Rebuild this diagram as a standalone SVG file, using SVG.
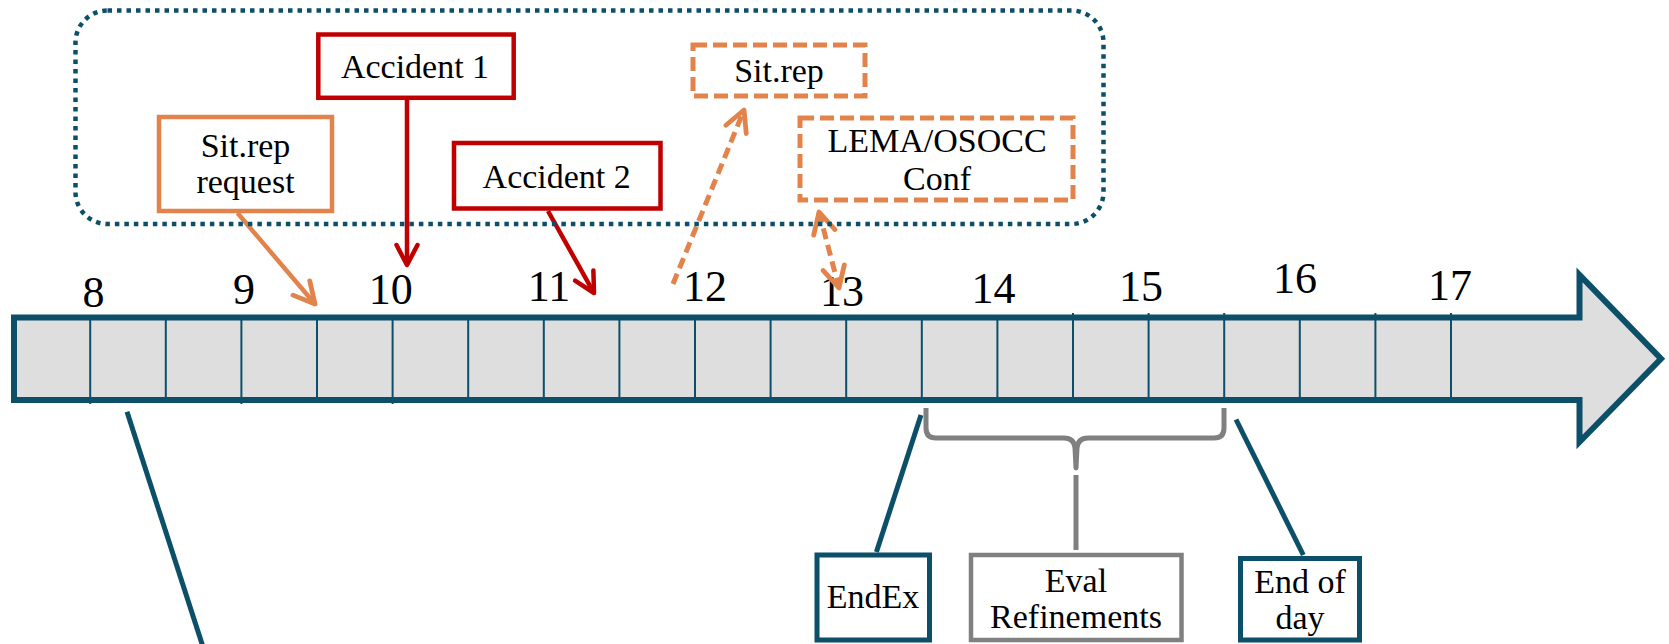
<svg xmlns="http://www.w3.org/2000/svg" width="1669" height="644" viewBox="0 0 1669 644">
<style>
.t{font-family:"Liberation Serif","Times New Roman",serif;font-size:34px;fill:#000;text-anchor:middle}
.n{font-family:"Liberation Serif","Times New Roman",serif;font-size:44px;fill:#000;text-anchor:middle}
.red{fill:#fff;stroke:#C00000;stroke-width:4.5}
.org{fill:#fff;stroke:#E2834B;stroke-width:4.5}
.orgd{fill:#fff;stroke:#E2834B;stroke-width:5;stroke-dasharray:14 6}
.teal{fill:#fff;stroke:#0B4F69;stroke-width:5}
.gray{fill:#fff;stroke:#808080;stroke-width:4.5}
.div{stroke:#0B4F69;stroke-width:2}
.c-red{stroke:#C00000;stroke-width:4.5;fill:none}
.c-org{stroke:#E2834B;stroke-width:4.5;fill:none}
.c-orgd{stroke:#E2834B;stroke-width:5;fill:none;stroke-dasharray:11 6}
.c-teal{stroke:#0B4F69;stroke-width:5;fill:none}
.c-gray{stroke:#808080;stroke-width:5;fill:none;stroke-linejoin:round}
</style>
<defs>
<marker id="ah-red" markerUnits="userSpaceOnUse" markerWidth="40" markerHeight="40" viewBox="-30 -20 40 40" refX="0" refY="0" orient="auto">
<path d="M-20,-10.5 L0,0 L-20,10.5" fill="none" stroke="#C00000" stroke-width="4.5" stroke-linejoin="round" stroke-linecap="round"/>
</marker>
<marker id="ah-org" markerUnits="userSpaceOnUse" markerWidth="40" markerHeight="40" viewBox="-30 -20 40 40" refX="0" refY="0" orient="auto-start-reverse">
<path d="M-21,-11 L0,0 L-21,11" fill="none" stroke="#E2834B" stroke-width="4.8" stroke-linejoin="round" stroke-linecap="round"/>
</marker>
</defs>

<g id="timeline">
<polygon points="14,317.5 1579.5,317.5 1579.5,275 1661,358.75 1579.5,442 1579.5,400 14,400" fill="#DEDEDE" stroke="#0B4F69" stroke-width="6"/>
<g class="div">
<line x1="90.2" y1="320" x2="90.2" y2="404"/>
<line x1="165.8" y1="320" x2="165.8" y2="397"/>
<line x1="241.4" y1="320" x2="241.4" y2="404"/>
<line x1="317" y1="320" x2="317" y2="397"/>
<line x1="392.6" y1="320" x2="392.6" y2="404"/>
<line x1="468.2" y1="320" x2="468.2" y2="397"/>
<line x1="543.8" y1="320" x2="543.8" y2="397"/>
<line x1="619.4" y1="320" x2="619.4" y2="397"/>
<line x1="695" y1="320" x2="695" y2="397"/>
<line x1="770.6" y1="320" x2="770.6" y2="397"/>
<line x1="846.2" y1="320" x2="846.2" y2="397"/>
<line x1="921.8" y1="320" x2="921.8" y2="397"/>
<line x1="997.4" y1="320" x2="997.4" y2="397"/>
<line x1="1073" y1="313" x2="1073" y2="397"/>
<line x1="1148.6" y1="313" x2="1148.6" y2="397"/>
<line x1="1224.2" y1="313" x2="1224.2" y2="397"/>
<line x1="1299.8" y1="320" x2="1299.8" y2="397"/>
<line x1="1375.4" y1="313" x2="1375.4" y2="397"/>
<line x1="1451" y1="313" x2="1451" y2="397"/>
</g>
<text class="n" x="93.4" y="307">8</text>
<text class="n" x="244" y="304">9</text>
<text class="n" x="390.7" y="304">10</text>
<text class="n" x="549" y="301">11</text>
<text class="n" x="705" y="301">12</text>
<text class="n" x="842" y="306">13</text>
<text class="n" x="993.6" y="303">14</text>
<text class="n" x="1141" y="301">15</text>
<text class="n" x="1295" y="293">16</text>
<text class="n" x="1450" y="300">17</text>
</g>

<g id="connectors">
<line class="c-org" x1="237.5" y1="213" x2="315" y2="304" marker-end="url(#ah-org)"/>
<line class="c-red" x1="407" y1="100" x2="407" y2="265" marker-end="url(#ah-red)"/>
<line class="c-red" x1="548" y1="211" x2="594" y2="293" marker-end="url(#ah-red)"/>
<line class="c-orgd" x1="673" y1="284" x2="744" y2="110" marker-end="url(#ah-org)"/>
<line class="c-orgd" x1="819" y1="212" x2="839" y2="288" marker-start="url(#ah-org)" marker-end="url(#ah-org)"/>
<line class="c-teal" x1="127" y1="411.7" x2="204" y2="650"/>
<line class="c-teal" x1="921" y1="415" x2="876.4" y2="552"/>
<line class="c-teal" x1="1236" y1="419.5" x2="1303.3" y2="555"/>
<path class="c-gray" d="M926,408 L926,428 Q926,438 936,438 L1064,438 Q1074,438 1075,448 L1076,468 L1077,448 Q1078,438 1088,438 L1214,438 Q1224,438 1224,428 L1224,408"/>
<line class="c-gray" x1="1076" y1="475" x2="1076" y2="550"/>
</g>

<g id="sitrep-request">
<rect class="org" x="159" y="117" width="173" height="94"/>
<text class="t" x="245.5" y="157">Sit.rep</text>
<text class="t" x="245.5" y="193">request</text>
</g>
<g id="accident-1">
<rect class="red" x="318.3" y="34.5" width="195.4" height="63.3"/>
<text class="t" x="415" y="78">Accident 1</text>
</g>
<g id="accident-2">
<rect class="red" x="454" y="143" width="206.5" height="65.5"/>
<text class="t" x="556.7" y="188">Accident 2</text>
</g>
<g id="sitrep">
<rect class="orgd" x="693" y="45" width="172" height="51"/>
<text class="t" x="779" y="82">Sit.rep</text>
</g>
<g id="lema-osocc">
<rect class="orgd" x="800" y="118" width="273" height="82"/>
<text class="t" x="937" y="152">LEMA/OSOCC</text>
<text class="t" x="937" y="190">Conf</text>
</g>

<g id="scenario-frame">
<rect x="75.5" y="10.5" width="1028" height="213.5" rx="32" ry="32" fill="none" stroke="#0B4F69" stroke-width="4.5" stroke-dasharray="4.5 5"/>
</g>

<g id="endex">
<rect class="teal" x="817" y="555" width="112.5" height="85"/>
<text class="t" x="873" y="608">EndEx</text>
</g>
<g id="eval-refinements">
<rect class="gray" x="971" y="555" width="210.5" height="85"/>
<text class="t" x="1076" y="592">Eval</text>
<text class="t" x="1076" y="628">Refinements</text>
</g>
<g id="end-of-day">
<rect class="teal" x="1240.5" y="558.5" width="119" height="81.5"/>
<text class="t" x="1300" y="592.7">End of</text>
<text class="t" x="1300" y="629">day</text>
</g>
</svg>
